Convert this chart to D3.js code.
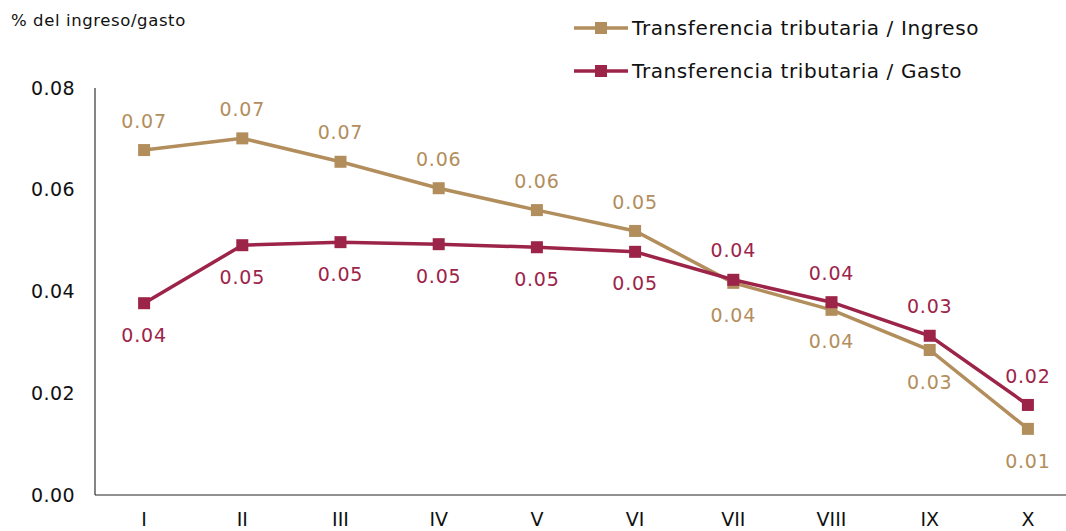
<!DOCTYPE html>
<html>
<head>
<meta charset="utf-8">
<script src="https://cdn.jsdelivr.net/npm/d3@7"></script>
<style>
  body { margin: 0; background: #fff; }
  svg { display: block; font-family: "DejaVu Sans", sans-serif; }
</style>
</head>
<body>
<svg id="chart" width="1066" height="531"></svg>
<script>
const categories = ["I", "II", "III", "IV", "V", "VI", "VII", "VIII", "IX", "X"];
const ingresoValues = [0.0678, 0.0701, 0.0655, 0.0603, 0.0560, 0.0519, 0.0417, 0.0364, 0.0285, 0.0130];
const gastoValues = [0.0377, 0.0491, 0.0497, 0.0493, 0.0487, 0.0478, 0.0423, 0.0379, 0.0313, 0.0177];
const yTicks = [0, 0.02, 0.04, 0.06, 0.08];
// label above (-1) or below (+1) per point
const ingresoLabelPos = [-1, -1, -1, -1, -1, -1, 1, 1, 1, 1];
const gastoLabelPos = [1, 1, 1, 1, 1, 1, -1, -1, -1, -1];

const gold = "#b38e5d", maroon = "#9d2449";

const svg = d3.select("#chart");
const x = d3.scaleBand().domain(categories).range([95, 1077]);
const y = d3.scaleLinear().domain([0, 0.08]).range([495, 88]);
const cx = c => x(c) + x.bandwidth() / 2;

// axes
svg.append("line").attr("x1", 95).attr("x2", 95).attr("y1", 88).attr("y2", 495)
  .attr("stroke", "#333").attr("stroke-width", 1.2);
svg.append("line").attr("x1", 95).attr("x2", 1066).attr("y1", 495).attr("y2", 495)
  .attr("stroke", "#222").attr("stroke-width", 1.2);

svg.selectAll(".ytick").data(yTicks).enter().append("text")
  .attr("x", 75).attr("y", d => y(d)).attr("dy", "0.35em")
  .attr("text-anchor", "end").attr("font-size", 19).attr("fill", "#111")
  .attr("letter-spacing", 0.4)
  .text(d => d.toFixed(2));

svg.selectAll(".xtick").data(categories).enter().append("text")
  .attr("x", d => cx(d)).attr("y", 519).attr("dy", "0.35em")
  .attr("text-anchor", "middle").attr("font-size", 19).attr("fill", "#111")
  .text(d => d);

svg.append("text").attr("x", 11).attr("y", 26).attr("font-size", 16.5).attr("fill", "#111")
  .attr("letter-spacing", 0.6)
  .text("% del ingreso/gasto");

function drawSeries(values, color, labelPos) {
  const data = categories.map((c, i) => ({ c, v: values[i], p: labelPos[i] }));
  const line = d3.line().x(d => cx(d.c)).y(d => y(d.v));
  svg.append("path").datum(data).attr("d", line)
    .attr("fill", "none").attr("stroke", color).attr("stroke-width", 3.5);
  svg.selectAll(null).data(data).enter().append("rect")
    .attr("x", d => cx(d.c) - 6).attr("y", d => y(d.v) - 6)
    .attr("width", 12).attr("height", 12).attr("fill", color);
  svg.selectAll(null).data(data).enter().append("text")
    .attr("x", d => cx(d.c)).attr("y", d => y(d.v) + (d.p < 0 ? -29 : 32))
    .attr("dy", "0.35em").attr("text-anchor", "middle")
    .attr("font-size", 19).attr("fill", color).attr("letter-spacing", 0.8)
    .text(d => d.v.toFixed(2));
}

drawSeries(ingresoValues, gold, ingresoLabelPos);
drawSeries(gastoValues, maroon, gastoLabelPos);

// legend
const legend = [
  { name: "Transferencia tributaria / Ingreso", color: gold, y: 28 },
  { name: "Transferencia tributaria / Gasto", color: maroon, y: 71 }
];
legend.forEach(l => {
  svg.append("line").attr("x1", 574).attr("x2", 628).attr("y1", l.y).attr("y2", l.y)
    .attr("stroke", l.color).attr("stroke-width", 3.5);
  svg.append("rect").attr("x", 595).attr("y", l.y - 6).attr("width", 12).attr("height", 12)
    .attr("fill", l.color);
  svg.append("text").attr("x", 632).attr("y", l.y).attr("dy", "0.35em")
    .attr("font-size", 20).attr("fill", "#111").attr("letter-spacing", 0.6)
    .text(l.name);
});
</script>
</body>
</html>
